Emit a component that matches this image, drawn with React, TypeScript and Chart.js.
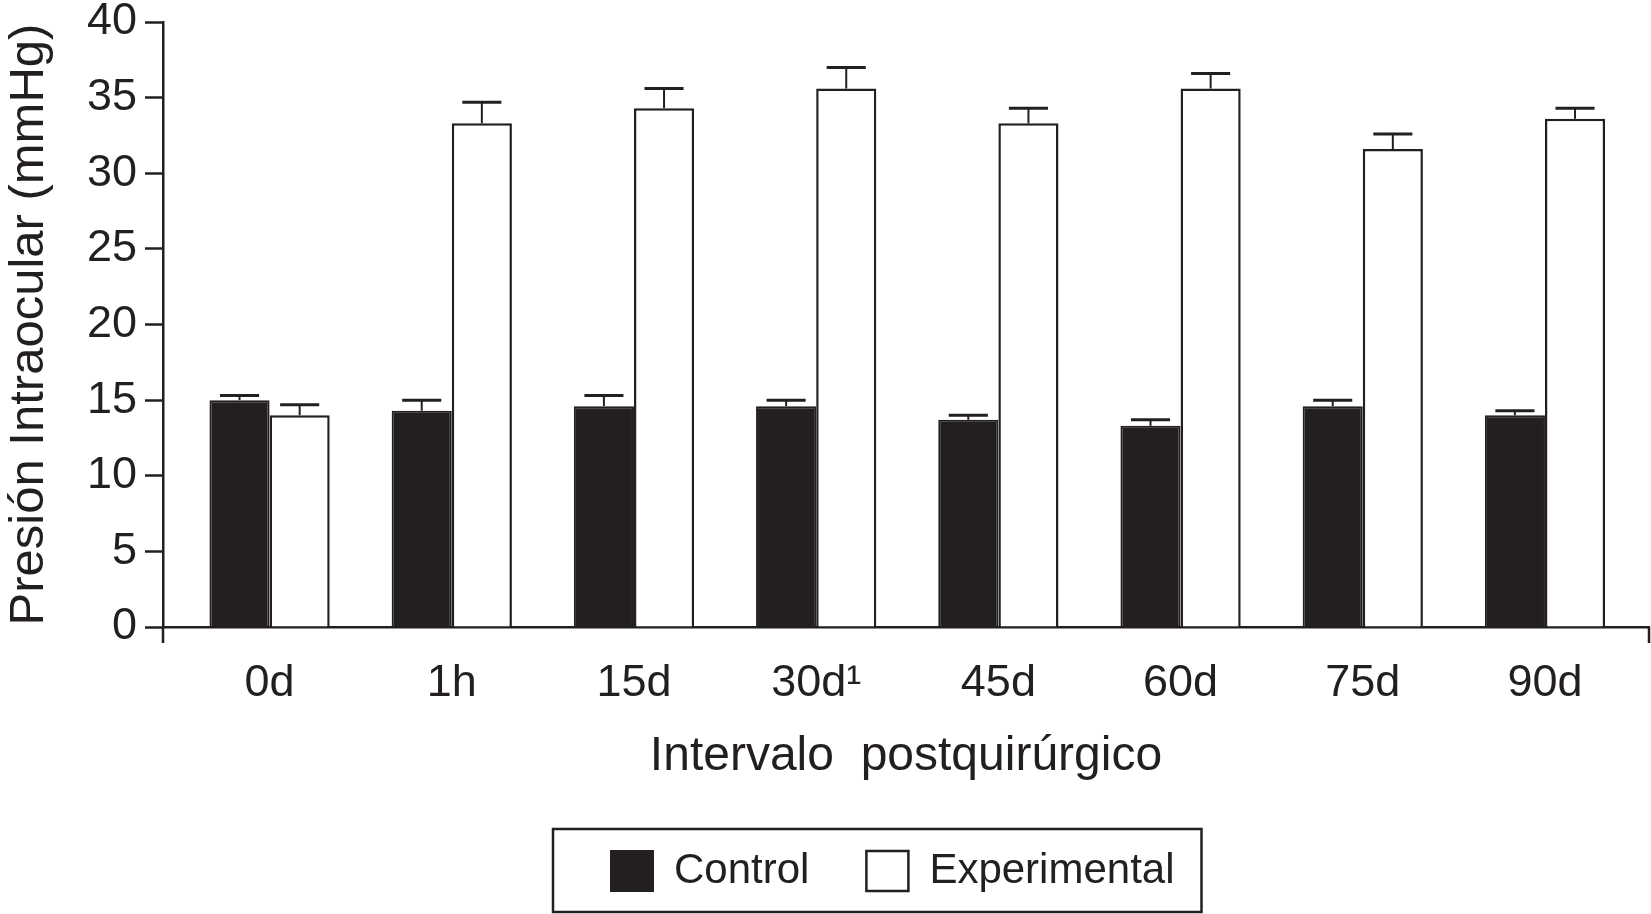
import React, { useEffect, useRef } from 'react';
import { Chart, registerables } from 'chart.js';

Chart.register(...registerables);

// values (mean + upper SEM)
const intervals = ['0d', '1h', '15d', '30d¹', '45d', '60d', '75d', '90d'];
const controlMeans = [15.0, 14.3, 14.6, 14.6, 13.7, 13.3, 14.6, 14.0];
const controlErrors = [0.3, 0.7, 0.7, 0.4, 0.3, 0.4, 0.4, 0.3];
const experimentalMeans = [14.0, 33.3, 34.3, 35.6, 33.3, 35.6, 31.6, 33.6];
const experimentalErrors = [0.7, 1.4, 1.3, 1.4, 1.0, 1.0, 1.0, 0.7];
const yMin = 0;
const yMax = 40;
const yStep = 5;

const INK = '#231f20';
const FONT = '"Liberation Sans", Arial, Helvetica, sans-serif';

// upper error bars, drawn from the bar elements and the y scale
const errorBars = {
  id: 'errorBars',
  afterDatasetsDraw(chart: any) {
    const { ctx, scales } = chart;
    chart.data.datasets.forEach((ds: any, di: number) => {
      const meta = chart.getDatasetMeta(di);
      meta.data.forEach((bar: any, i: number) => {
        const v = ds.data[i].y;
        const top = scales.y.getPixelForValue(v + ds.errors[i]);
        const cap = bar.width * 0.65;
        ctx.save();
        ctx.strokeStyle = INK;
        ctx.lineWidth = 2;
        ctx.beginPath();
        ctx.moveTo(bar.x, bar.y);
        ctx.lineTo(bar.x, top);
        ctx.stroke();
        ctx.lineWidth = 3;
        ctx.beginPath();
        ctx.moveTo(bar.x - cap / 2, top);
        ctx.lineTo(bar.x + cap / 2, top);
        ctx.stroke();
        ctx.restore();
      });
    });
  },
};

// end ticks of the x axis + framed legend
const frame = {
  id: 'frame',
  afterUpdate(chart: any) {
    const lg = chart.legend;
    if (!lg || !lg.legendHitBoxes.length) return;
    const hb = lg.legendHitBoxes;
    const dx = 611 - hb[0].left;
    const dy = 850 - hb[0].top;
    lg.left += dx;
    lg.right += dx;
    lg.top += dy;
    lg.bottom += dy;
    hb.forEach((h: any) => {
      h.left += dx;
      h.top += dy;
    });
  },
  afterDraw(chart: any) {
    const { ctx, chartArea } = chart;
    ctx.save();
    ctx.strokeStyle = INK;
    ctx.lineWidth = 2.5;
    ctx.beginPath();
    ctx.moveTo(chartArea.left, chartArea.bottom);
    ctx.lineTo(chartArea.left, chartArea.bottom + 16);
    ctx.moveTo(chartArea.right, chartArea.bottom);
    ctx.lineTo(chartArea.right, chartArea.bottom + 16);
    ctx.stroke();

    const hb = chart.legend?.legendHitBoxes;
    if (hb && hb.length) {
      const first = hb[0];
      const last = hb[hb.length - 1];
      const x0 = first.left - 58;
      const x1 = last.left + last.width + 27;
      const y0 = first.top - 21;
      const y1 = first.top + first.height + 20;
      ctx.lineWidth = 2.5;
      ctx.strokeRect(x0, y0, x1 - x0, y1 - y0);
    }
    ctx.restore();
  },
};

export default function App() {
  const canvasRef = useRef<HTMLCanvasElement>(null);
  const chartRef = useRef<Chart | null>(null);

  useEffect(() => {
    document.body.style.margin = '0';
    document.body.style.overflow = 'hidden';
    if (!canvasRef.current) return;

    chartRef.current = new Chart(canvasRef.current, {
      type: 'bar',
      data: {
        datasets: [
          {
            label: 'Control',
            data: controlMeans.map((v, i) => ({ x: i, y: v })),
            errors: controlErrors,
            backgroundColor: INK,
            borderColor: INK,
            borderWidth: 2,
          } as any,
          {
            label: 'Experimental',
            data: experimentalMeans.map((v, i) => ({ x: i, y: v })),
            errors: experimentalErrors,
            backgroundColor: '#ffffff',
            borderColor: INK,
            borderWidth: 2.5,
          } as any,
        ],
      },
      options: {
        animation: false,
        responsive: true,
        maintainAspectRatio: false,
        events: [],
        datasets: {
          bar: { categoryPercentage: 0.66, barPercentage: 1.0 },
        },
        layout: { padding: { top: 22, right: 2, bottom: 0, left: 0 } },
        scales: {
          x: {
            type: 'linear',
            offset: false,
            min: -0.585,
            max: 7.571,
            afterBuildTicks: (scale: any) => {
              scale.ticks = intervals.map((_, i) => ({ value: i }));
            },
            afterFit: (scale: any) => {
              scale.height = 178;
            },
            ticks: {
              callback: (v: any) => intervals[v] ?? '',
              autoSkip: false,
              maxRotation: 0,
              padding: 14,
              color: INK,
              font: { family: FONT, size: 45 },
            },
            grid: {
              display: true,
              drawOnChartArea: false,
              drawTicks: true,
              tickLength: 16,
              tickColor: 'rgba(0,0,0,0)',
            },
            border: { display: true, color: INK, width: 2.5 },
            title: {
              display: true,
              text: 'Intervalo  postquirúrgico',
              color: INK,
              font: { family: FONT, size: 48 },
              padding: { top: 0, bottom: 19 },
            },
          },
          y: {
            min: yMin,
            max: yMax,
            afterFit: (scale: any) => {
              scale.width = 163;
            },
            ticks: {
              stepSize: yStep,
              padding: 8,
              color: INK,
              font: { family: FONT, size: 45, lineHeight: 0.6 },
            },
            grid: {
              display: true,
              drawOnChartArea: false,
              drawTicks: true,
              tickLength: 18,
              tickColor: INK,
              tickWidth: 2.5,
            },
            border: { display: true, color: INK, width: 2.5 },
            title: {
              display: true,
              text: 'Presión Intraocular (mmHg)',
              color: INK,
              font: { family: FONT, size: 49 },
              padding: { top: 0, bottom: 0 },
            },
          },
        },
        plugins: {
          tooltip: { enabled: false },
          legend: {
            display: true,
            position: 'bottom',
            labels: {
              boxWidth: 42,
              boxHeight: 40,
              padding: 57,
              color: INK,
              font: { family: FONT, size: 42 },
            },
          },
        },
      } as any,
      plugins: [errorBars, frame],
    });

    return () => {
      chartRef.current?.destroy();
      chartRef.current = null;
    };
  }, []);

  return (
    <div style={{ position: 'relative', width: '1651px', height: '914px' }}>
      <canvas ref={canvasRef} aria-label="Presión intraocular por intervalo postquirúrgico" role="img"></canvas>
    </div>
  );
}
